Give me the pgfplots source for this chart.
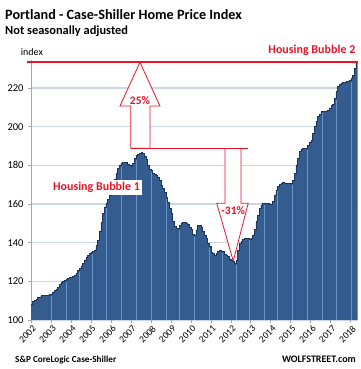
\documentclass[border=0pt]{standalone}
\usepackage{pgfplots}
\usepackage{pgfplotstable}
\pgfplotsset{compat=1.18}
\usepackage{fontspec}
\setmainfont{Carlito}
\definecolor{barblue}{RGB}{52,92,142}
\definecolor{baredge}{RGB}{28,52,92}
\definecolor{barlight}{RGB}{105,150,205}
\definecolor{gridc}{RGB}{200,214,232}
\definecolor{axgray}{RGB}{166,166,166}
\definecolor{wred}{RGB}{232,20,40}

\pgfplotstableread{
m v
0 108.3
1 109.6
2 110.0
3 110.7
4 111.5
5 112.0
6 112.8
7 112.9
8 112.9
9 112.9
10 113.0
11 113.3
12 113.5
13 114.1
14 115.2
15 115.9
16 117.0
17 118.5
18 119.5
19 120.2
20 120.6
21 121.0
22 121.5
23 121.9
24 122.2
25 122.7
26 123.2
27 124.1
28 125.8
29 126.7
30 128.0
31 129.3
32 131.0
33 132.4
34 133.5
35 134.5
36 135.0
37 135.3
38 136.3
39 138.5
40 141.4
41 146.0
42 150.5
43 155.0
44 158.5
45 160.5
46 162.5
47 164.5
48 167.0
49 170.0
50 173.0
51 176.0
52 178.5
53 180.2
54 181.0
55 181.4
56 181.6
57 181.4
58 180.7
59 179.8
60 179.7
61 181.0
62 183.6
63 185.2
64 185.6
65 186.2
66 186.5
67 186.2
68 184.8
69 183.1
70 180.2
71 178.0
72 177.2
73 175.9
74 175.5
75 175.0
76 174.0
77 172.4
78 169.8
79 168.0
80 166.0
81 163.5
82 161.0
83 157.8
84 155.0
85 151.0
86 148.3
87 147.4
88 147.2
89 149.1
90 150.2
91 150.4
92 150.3
93 150.0
94 149.5
95 147.8
96 147.0
97 144.2
98 143.6
99 146.6
100 148.8
101 148.9
102 147.7
103 145.7
104 144.0
105 142.3
106 139.7
107 137.9
108 135.0
109 134.3
110 133.6
111 134.5
112 135.5
113 135.8
114 135.6
115 135.3
116 134.0
117 133.4
118 132.8
119 131.6
120 131.0
121 130.6
122 129.4
123 131.0
124 136.0
125 139.5
126 140.8
127 141.6
128 142.2
129 142.3
130 142.1
131 142.0
132 142.4
133 144.0
134 147.0
135 150.9
136 154.3
137 157.8
138 159.5
139 160.3
140 160.5
141 160.4
142 160.3
143 160.0
144 160.0
145 161.2
146 164.7
147 167.3
148 169.0
149 170.3
150 170.5
151 171.0
152 170.8
153 170.7
154 170.7
155 170.6
156 170.8
157 172.4
158 175.9
159 180.2
160 183.6
161 187.1
162 188.4
163 188.6
164 188.8
165 188.9
166 190.5
167 191.9
168 193.1
169 196.6
170 200.0
171 202.6
172 205.2
173 206.4
174 207.8
175 208.0
176 208.1
177 208.2
178 208.6
179 209.5
180 211.0
181 211.4
182 214.7
183 218.1
184 220.7
185 221.9
186 222.6
187 222.9
188 223.0
189 223.3
190 223.6
191 224.1
192 225.0
193 226.7
194 230.2
195 233.3
196 233.3
}\cs

% light gaps between bars (boundary position, lower of the two adjacent bars)
\pgfplotstableread{
x v
11.5 112.5
20.5 119.8
28.5 125.0
36.5 134.2
44.5 157.7
53.5 179.4
62.5 182.8
71.5 176.4
80.5 162.7
88.5 146.4
97.5 142.8
106.5 137.1
114.5 134.5
122.5 128.6
130.5 141.2
139.5 159.5
147.5 166.5
156.5 170.0
165.5 188.1
174.5 207.0
182.5 213.9
191.5 223.3
}\gaps

\begin{document}
\begin{tikzpicture}[x=1pt,y=1pt]
\begin{axis}[
  at={(31pt,49pt)}, anchor=south west,
  scale only axis, width=326.5pt, height=260pt,
  xmin=-0.5, xmax=195.5, ymin=100, ymax=234.5,
  axis x line*=bottom, axis y line*=left,
  axis line style={axgray, line width=1pt},
  clip mode=individual,
  ytick={100,120,...,220},
  ymajorgrids, grid style={gridc, line width=1.3pt},
  xtick={-0.5,11.5,...,191.5},
  xticklabels={2002,2003,2004,2005,2006,2007,2008,2009,2010,2011,2012,2013,2014,2015,2016,2017,2018},
  tick align=outside, major tick length=3pt,
  tick style={axgray, line width=0.8pt},
  /pgf/number format/assume math mode=true,
  yticklabel style={font=\fontsize{10.5}{12}\selectfont, xshift=-1pt},
  xticklabel style={font=\fontsize{9.5}{11}\selectfont, rotate=45, anchor=north east, inner sep=0.5pt, yshift=-1.5pt},
]
\addplot[const plot mark left, fill=barblue, draw=none] table[x expr=\thisrow{m}-0.5, y=v] {\cs} \closedcycle;
\addplot[ycomb, draw=barlight, line width=0.6pt, mark=none] table[x=x, y=v] {\gaps};
\addplot[const plot mark left, draw=baredge, line width=0.6pt] table[x expr=\thisrow{m}-0.5, y=v] {\cs};

\draw[wred, line width=0.8pt, fill=white] (axis cs:59.35,188.8) -- (axis cs:59.35,210.7) -- (axis cs:52.9,210.7) -- (axis cs:64.9,233.3) -- (axis cs:76.9,210.7) -- (axis cs:70.9,210.7) -- (axis cs:70.9,188.8) -- cycle;
\draw[wred, line width=0.8pt, fill=white] (axis cs:116,188.8) -- (axis cs:116,160.4) -- (axis cs:111,160.4) -- (axis cs:120.9,130.5) -- (axis cs:129.9,160.4) -- (axis cs:125.6,160.4) -- (axis cs:125.6,188.8);
\draw[wred, line width=0.8pt] (axis cs:59.35,188.8) -- (axis cs:129.9,188.8);
\node[text=wred, font=\bfseries\fontsize{11.5}{13}\selectfont, inner sep=0pt] at (axis cs:64.9,213.4) {25\%};
\node[text=wred, font=\bfseries\fontsize{11.5}{13}\selectfont, inner sep=0pt] at (axis cs:120.9,156.8) {-31\%};
\node[fill=white, text=wred, font=\bfseries\fontsize{12}{14}\selectfont, inner sep=2pt] at (axis cs:38.8,168.5) {Housing Bubble 1};
\draw[wred, line width=1.8pt] (axis cs:-2.7,233.6) -- (axis cs:195.5,233.6);
\end{axis}
\node[anchor=base west, inner sep=0pt, font=\bfseries\fontsize{14.2}{16}\selectfont] at (5pt,349.7pt) {Portland - Case-Shiller Home Price Index};
\node[anchor=base west, inner sep=0pt, font=\bfseries\fontsize{12.4}{14}\selectfont] at (5pt,334pt) {Not seasonally adjusted};
\node[anchor=base west, inner sep=0pt, font=\fontsize{10}{12}\selectfont] at (20.7pt,313pt) {index};
\node[anchor=base east, inner sep=0pt, text=wred, font=\bfseries\fontsize{12}{14}\selectfont] at (355.5pt,315pt) {Housing Bubble 2};
\node[anchor=base west, inner sep=0pt, font=\bfseries\fontsize{9.2}{11}\selectfont] at (15pt,6pt) {S\&P CoreLogic Case-Shiller};
\node[anchor=base east, inner sep=0pt, font=\bfseries\fontsize{10}{12}\selectfont] at (356pt,6pt) {WOLFSTREET.com};
\pgfresetboundingbox
\path[use as bounding box] (0,0) rectangle (360pt,369pt);
\end{tikzpicture}
\end{document}
